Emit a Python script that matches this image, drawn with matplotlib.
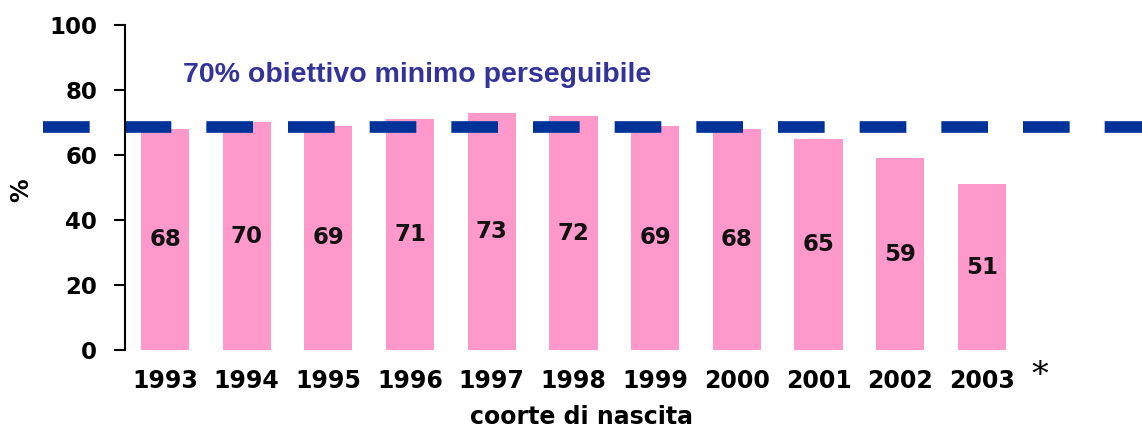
import matplotlib
matplotlib.use("Agg")
import matplotlib.pyplot as plt

years = ["1993", "1994", "1995", "1996", "1997", "1998", "1999", "2000", "2001", "2002", "2003"]
values = [68, 70, 69, 71, 73, 72, 69, 68, 65, 59, 51]
target_value = 68.6
target_label = "70% obiettivo minimo perseguibile"
y_ticks = [0, 20, 40, 60, 80, 100]

W, H = 1142, 434
fig = plt.figure(figsize=(W / 100, H / 100), dpi=100)
ax = fig.add_axes([125 / W, 84 / H, 1 - 125 / W, 325 / H])

x = list(range(len(years)))
ax.bar(x, values, width=0.59, color="#FF99CC", zorder=1)

for xi, v in zip(x, values):
    ax.text(xi, v / 2, str(v), ha="center", va="center", fontsize=16.5,
            fontweight="bold", family="DejaVu Sans", color="#111111", zorder=3)

ax.set_xlim(-0.49, 11.96)
ax.set_ylim(0, 100)

# target dashed line, extending left of the axis
ax.plot([-1.494, 12.5], [target_value, target_value], color="#003399",
        linewidth=8.4, dashes=(4.0, 3.0), solid_capstyle="butt",
        dash_capstyle="butt", clip_on=False, zorder=2)

ax.text(0.22, 84.5, target_label, ha="left", va="center", fontsize=20.5,
        fontweight="bold", family="Liberation Sans", color="#333399")

ax.set_yticks(y_ticks)
ax.set_yticklabels([str(t) for t in y_ticks], fontsize=16.5, fontweight="bold",
                   family="DejaVu Sans")
ax.set_xticks(x)
ax.set_xticklabels(years, fontsize=17, fontweight="bold", family="DejaVu Sans")
ax.tick_params(axis="y", length=8, width=1.5, pad=12, direction="out")
ax.tick_params(axis="x", length=0, pad=14)

for s in ["top", "right", "bottom"]:
    ax.spines[s].set_visible(False)
ax.spines["left"].set_linewidth(1.5)

fig.text(21 / W, 1 - 190 / H, "%", rotation=90, ha="center", va="center",
         fontsize=17, fontweight="bold", family="DejaVu Sans")
fig.text(581 / W, 1 - 417 / H, "coorte di nascita", ha="center", va="center",
         fontsize=17, fontweight="bold", family="DejaVu Sans")
fig.text(1040 / W, 1 - 376 / H, "*", ha="center", va="center",
         fontsize=24, family="DejaVu Serif")

fig.savefig("out.png", dpi=100)
